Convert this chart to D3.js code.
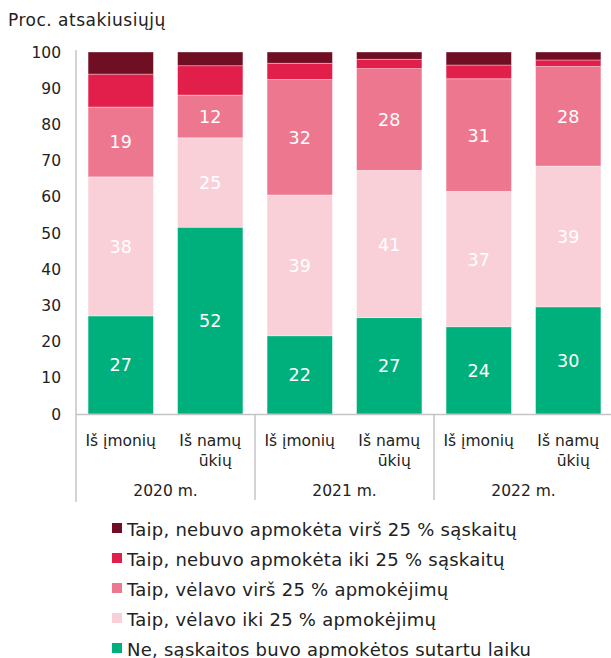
<!DOCTYPE html>
<html>
<head>
<meta charset="utf-8">
<script src="https://cdn.jsdelivr.net/npm/d3@7"></script>
<style>
  body { margin: 0; background: #fff; }
  text { font-family: "DejaVu Sans", Verdana, sans-serif; }
</style>
</head>
<body>
<div class="chart"></div>
<script>
// data (percent of respondents)
var years = ["2020 m.", "2021 m.", "2022 m."];
var groupLabels = [["Iš įmonių"], ["Iš namų", "ūkių"]];
var seriesNames = [
  "Ne, sąskaitos buvo apmokėtos sutartu laiku",
  "Taip, vėlavo iki 25 % apmokėjimų",
  "Taip, vėlavo virš 25 % apmokėjimų",
  "Taip, nebuvo apmokėta iki 25 % sąskaitų",
  "Taip, nebuvo apmokėta virš 25 % sąskaitų"
];
var onTime     = [27.1, 51.6, 21.6, 26.6, 24.1, 29.6];
var lateUpTo   = [38.4, 24.7, 38.9, 40.7, 37.4, 38.9];
var lateOver   = [19.3, 11.8, 31.9, 28.1, 31.1, 27.5];
var unpaidUpTo = [9.1, 8.1, 4.5, 2.6, 3.8, 1.8];
var unpaidOver = [6.1, 3.8, 3.1, 2.0, 3.6, 2.2];
var yTicks = [0, 10, 20, 30, 40, 50, 60, 70, 80, 90, 100];

var colors = ["#00b07c", "#f9d0d8", "#ee7790", "#e21f4b", "#700f24"];

var svgWidth = 611;
var svgHeight = 658;

var svg = d3.select(".chart")
  .append("svg")
  .attr("width", svgWidth)
  .attr("height", svgHeight);

// build rows for the stack
var keys = ["s0", "s1", "s2", "s3", "s4"];
var allSeries = [onTime, lateUpTo, lateOver, unpaidUpTo, unpaidOver];
var rows = onTime.map(function(d, i) {
  var r = { id: i };
  keys.forEach(function(k, j) { r[k] = allSeries[j][i]; });
  return r;
});
var stacked = d3.stack().keys(keys)(rows);

var xScale = d3.scaleBand()
  .domain(rows.map(d => d.id))
  .range([76, 613])
  .paddingInner(0.27)
  .paddingOuter(0.135);

var yScale = d3.scaleLinear()
  .domain([0, 100])
  .range([414, 52]);

// y label
svg.append("text")
  .attr("x", 8)
  .attr("y", 26)
  .attr("font-size", "17px")
  .attr("letter-spacing", "0.5px")
  .attr("fill", "#222")
  .text("Proc. atsakiusiųjų");

// y axis tick labels
svg.selectAll(".ytick")
  .data(yTicks)
  .enter()
  .append("text")
  .attr("class", "ytick")
  .attr("x", 61)
  .attr("y", d => yScale(d) + 5.5)
  .attr("text-anchor", "end")
  .attr("font-size", "15.5px")
  .attr("fill", "#222")
  .text(d => d);

// bars
var layers = svg.selectAll(".layer")
  .data(stacked)
  .enter()
  .append("g")
  .attr("fill", (d, i) => colors[i]);

layers.selectAll("rect")
  .data(d => d)
  .enter()
  .append("rect")
  .attr("x", d => xScale(d.data.id))
  .attr("width", xScale.bandwidth())
  .attr("y", d => yScale(d[1]))
  .attr("height", d => yScale(d[0]) - yScale(d[1]))
  .attr("stroke", "#fff")
  .attr("stroke-opacity", 0.5)
  .attr("stroke-width", 0.7);

// value labels for the three lower series
stacked.slice(0, 3).forEach(function(layer) {
  svg.selectAll(null)
    .data(layer)
    .enter()
    .append("text")
    .attr("x", d => xScale(d.data.id) + xScale.bandwidth() / 2)
    .attr("y", d => (yScale(d[0]) + yScale(d[1])) / 2 + 6.5)
    .attr("text-anchor", "middle")
    .attr("font-size", "17.5px")
    .attr("fill", "#fff")
    .text(d => Math.round(d[1] - d[0]));
});

// axis lines
var axisColor = "#c4c4c4";
svg.append("line")
  .attr("x1", 76).attr("x2", 76)
  .attr("y1", 50).attr("y2", 502)
  .attr("stroke", axisColor).attr("stroke-width", 1.5);
svg.append("line")
  .attr("x1", 76).attr("x2", 611)
  .attr("y1", 414.5).attr("y2", 414.5)
  .attr("stroke", axisColor).attr("stroke-width", 1.5);

var step = xScale.step();
years.forEach(function(y, g) {
  var x0 = 76 + g * 2 * step;
  if (g > 0) {
    svg.append("line")
      .attr("x1", x0).attr("x2", x0)
      .attr("y1", 414).attr("y2", 500)
      .attr("stroke", axisColor).attr("stroke-width", 1.5);
  }
  svg.append("text")
    .attr("x", x0 + step)
    .attr("y", 496)
    .attr("text-anchor", "middle")
    .attr("font-size", "15.5px")
    .attr("fill", "#222")
    .text(y);
});

// category labels
rows.forEach(function(r, i) {
  var lines = groupLabels[i % 2];
  var cx = xScale(r.id) + xScale.bandwidth() / 2;
  lines.forEach(function(t, k) {
    svg.append("text")
      .attr("x", cx + (k === 1 ? 5 : 0))
      .attr("y", 446 + k * 20)
      .attr("text-anchor", "middle")
      .attr("font-size", "15.5px")
      .attr("fill", "#222")
      .text(t);
  });
});

// legend
var legendItems = seriesNames.map((n, i) => ({ name: n, color: colors[i] })).reverse();
var legend = svg.selectAll(".legend")
  .data(legendItems)
  .enter()
  .append("g")
  .attr("transform", (d, i) => `translate(112, ${523 + i * 30})`);

legend.append("rect")
  .attr("width", 10)
  .attr("height", 10)
  .attr("fill", d => d.color);

legend.append("text")
  .attr("x", 15)
  .attr("y", 12.5)
  .attr("font-size", "18px")
  .attr("letter-spacing", "0.25px")
  .attr("fill", "#222")
  .text(d => d.name);
</script>
</body>
</html>
